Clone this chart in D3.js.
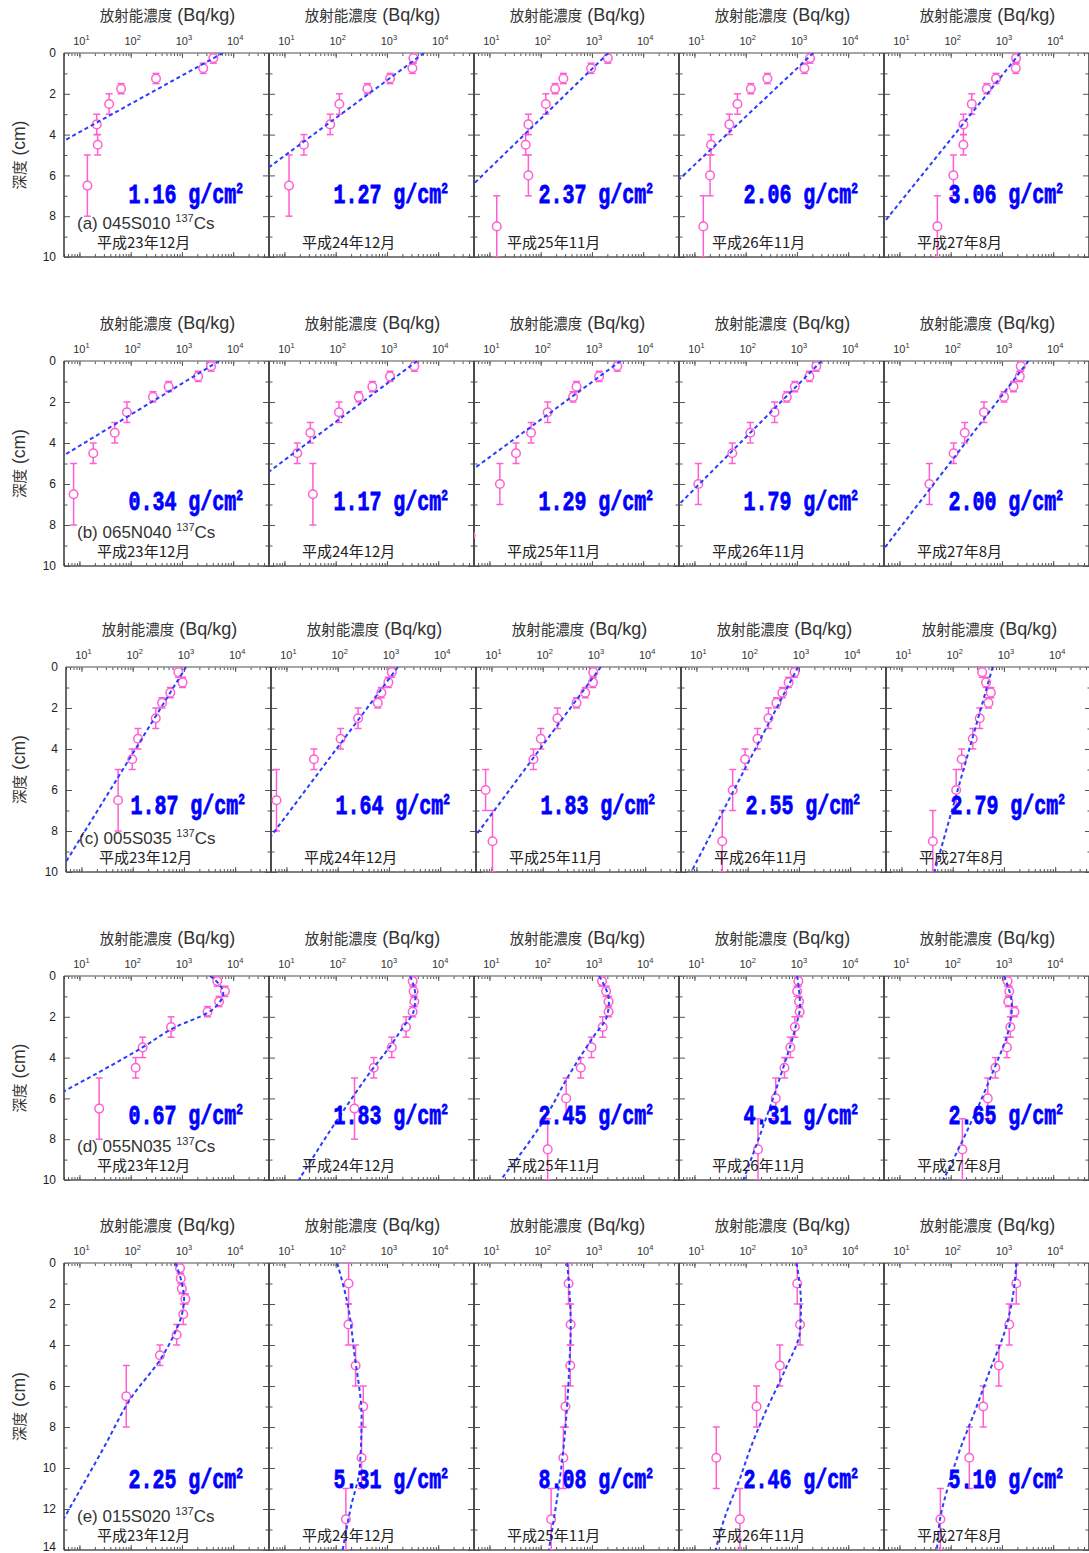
<!DOCTYPE html>
<html>
<head>
<meta charset="utf-8">
<script src="https://cdn.jsdelivr.net/npm/d3@7"></script>
<style>
  body { margin: 0; background: #fff; }
  svg { display: block; }
</style>
</head>
<body>
<svg id="chart"></svg>
<script>
// 地点と調査時期
const siteNames = ['(a) 045S010', '(b) 065N040', '(c) 005S035', '(d) 055N035', '(e) 015S020'];
const surveyDates = ['平成23年12月', '平成24年12月', '平成25年11月', '平成26年11月', '平成27年8月'];

// 重量緩衝深度 (g/cm2)
const massDepths = [
  ['1.16', '1.27', '2.37', '2.06', '3.06'],
  ['0.34', '1.17', '1.29', '1.79', '2.00'],
  ['1.87', '1.64', '1.83', '2.55', '2.79'],
  ['0.67', '1.83', '2.45', '4.31', '2.65'],
  ['2.25', '5.31', '8.08', '2.46', '5.10']
];

// 採取層 (cm)
const layersA = [[0, 0.5], [0.5, 1], [1, 1.5], [1.5, 2], [2, 3], [3, 4], [4, 5], [5, 8]];
const layersB = [[0, 0.5], [0.5, 1], [1, 1.5], [1.5, 2], [2, 3], [3, 4], [4, 5], [5, 7], [7, 10]];
const layersC = [[0, 2], [2, 4], [4, 6], [6, 8], [8, 11], [11, 14]];
const panelLayers = [
  [layersA, layersA, layersB, layersB, layersB],
  [layersA, layersA, layersB, layersB, layersB],
  [layersA, layersA, layersB, layersB, layersB],
  [layersA, layersA, layersB, layersB, layersB],
  [layersA, layersC, layersC, layersC, layersC]
];

// 放射能濃度 (Bq/kg)
const concA = [
  [4100, 2600, 312, 65, 38, 21.8, 22.7, 14.3],
  [3280, 3140, 1150, 415, 118, 78, 24, 12.3],
  [2040, 962, 277, 191, 126, 57.5, 51, 57.5, 13.9],
  [1800, 1400, 265, 126, 69, 48, 21.1, 20.2, 14.9],
  [1890, 1860, 768, 506, 258, 177, 177, 113, 55]
];
const concB = [
  [3700, 2075, 551, 272, 84.5, 48.9, 18.6, 7.7],
  [3430, 1150, 520, 282, 116, 32, 17.8, 35.9],
  [3120, 1384, 501, 428, 137, 65, 33, 16, 4.3],
  [2390, 1750, 912, 635, 367, 123, 54.7, 11.9],
  [2330, 2230, 1680, 1100, 446, 188, 114, 38.4]
];
const concC = [
  [778, 940, 543, 374, 282, 127, 98, 52],
  [1135, 975, 711, 608, 250, 114, 34.4, 6.4],
  [970, 955, 677, 458, 194, 92, 66, 7.7, 10.5],
  [822, 630, 475, 364, 254, 155, 89, 51, 31.9],
  [376, 448, 556, 499, 337, 247, 150, 117, 41]
];
const concD = [
  [4890, 6920, 5300, 3160, 614, 171, 125, 24.3],
  [3180, 3310, 3430, 3180, 2360, 1240, 553, 233],
  [1570, 1890, 2110, 2110, 1620, 980, 605, 314, 137],
  [1067, 1010, 1100, 1130, 912, 745, 571, 386, 174],
  [1290, 1390, 1330, 1760, 1460, 1250, 745, 529, 169]
];
const concE = [
  [918, 948, 998, 1167, 1062, 789, 372, 82],
  [179, 177, 245, 345, 320, 158],
  [350, 384, 378, 304, 277, 160],
  [1015, 1150, 464, 163, 26.7, 77],
  [1905, 1390, 871, 432, 231, 63]
];
const concentrations = [concA, concB, concC, concD, concE];

// 近似曲線 [濃度, 深度]
const fitA = [
  [[6300, 0], [5, 4.3]],
  [[5300, 0], [5, 5.6]],
  [[2090, 0], [5, 6.4]],
  [[2090, 0], [5, 6.2]],
  [[2260, 0], [5, 8.3]]
];
const fitB = [
  [[5300, 0], [5, 4.6]],
  [[3890, 0], [5, 5.4]],
  [[3630, 0], [5, 5.25]],
  [[3020, 0], [5, 7.0]],
  [[3300, 0], [5, 9.15]]
];
const fitC = [
  [[1100, 0], [5, 9.5]],
  [[1500, 0], [5, 8.25]],
  [[1365, 0], [5, 8.2]],
  [[962, 0], [7.9, 10]],
  [[603, 0], [44, 10]]
];
const fitD = [
  [[3550, 0], [5700, 0.5], [6400, 0.85], [5400, 1.3], [3200, 1.8], [750, 2.5], [170, 3.5], [5, 5.65]],
  [[2850, 0], [3600, 1.0], [3300, 1.75], [2080, 2.5], [1115, 3.5], [510, 4.6], [171, 6.3], [19, 10]],
  [[1380, 0], [2150, 1.25], [1950, 2.0], [1050, 3.0], [330, 5.0], [120, 7.0], [16.5, 10]],
  [[1010, 0], [1150, 1.5], [940, 2.5], [464, 5.0], [90, 10]],
  [[1100, 0], [1570, 1.5], [1390, 2.5], [640, 4.8], [72, 10]]
];
const fitE = [
  [[750, 0], [1000, 1.0], [1100, 1.75], [1000, 2.5], [700, 3.5], [380, 4.7], [107, 6.5], [30, 9.0], [5, 12.45]],
  [[107, 0], [171, 2.0], [234, 4.5], [320, 7.5], [295, 10], [194, 12], [137, 14]],
  [[329, 0], [385, 3.0], [363, 5.0], [266, 9.5], [144, 14]],
  [[985, 0], [1200, 2.0], [1150, 3.3], [590, 5.2], [250, 7.2], [130, 8.9], [75, 10.6], [38, 12.5], [26, 14]],
  [[1900, 0], [1800, 0.8], [1150, 3.3], [590, 5.2], [300, 7.2], [152, 9.1], [97, 10.6], [62, 12.5], [54, 14]]
];
const fits = [fitA, fitB, fitC, fitD, fitE];

// 目盛
const decadeTicks = [10, 100, 1000, 10000];
const decadeExponents = ['1', '2', '3', '4'];
const rowMaxDepth = [10, 10, 10, 10, 14];

// レイアウト
const W = 1089, H = 1553;
const panelW = 205;
const firstLeft = 64;
const rowTops = [53, 361, 667, 976, 1263];
const rowBottoms = [257, 566, 872, 1180, 1550];
const rowShift = [0, 0, 2, 0, 0];
const labelLift = [54, 56, 58, 56, 62];

const pink = '#ff5fd2';
const blue = '#2a3cff';
const latin = '"Liberation Sans", "Noto Sans CJK JP", sans-serif';
const cjk = '"Noto Sans CJK JP", sans-serif';

const svg = d3.select('#chart').attr('width', W).attr('height', H);

function ticks(parent, axis, transform) {
  const a = parent.append('g').attr('transform', transform).call(axis);
  a.select('.domain').remove();
  a.selectAll('.tick text').remove();
  a.selectAll('.tick line').attr('stroke', '#555').attr('stroke-width', 1);
}

rowTops.forEach((top, r) => {
  const bottom = rowBottoms[r];
  const maxDepth = rowMaxDepth[r];
  const y = d3.scaleLinear().domain([0, maxDepth]).range([top, bottom]);
  const evenDepths = d3.range(0, maxDepth + 1, 2);
  const oddDepths = d3.range(1, maxDepth, 2);

  // 縦軸ラベル
  const yl = svg.append('text')
    .attr('transform', `translate(25,${(top + bottom) / 2}) rotate(-90)`)
    .attr('text-anchor', 'middle')
    .attr('fill', '#333');
  yl.append('tspan').attr('font-family', cjk).attr('font-size', 14.5).text('深度');
  yl.append('tspan').attr('font-family', latin).attr('font-size', 17.5).text(' (cm)');

  for (let c = 0; c < 5; c++) {
    const left = firstLeft + rowShift[r] + c * panelW;
    const right = left + panelW;
    const x = d3.scaleLog().domain([5, 50000]).range([left, right]);
    const g = svg.append('g');
    const clipId = `clip-${r}-${c}`;
    g.append('clipPath').attr('id', clipId)
      .append('rect').attr('x', left).attr('y', top).attr('width', panelW).attr('height', bottom - top);

    // 横軸タイトル
    const title = g.append('text')
      .attr('x', left + panelW / 2 + 1)
      .attr('y', top - 32)
      .attr('text-anchor', 'middle')
      .attr('fill', '#333');
    title.append('tspan').attr('font-family', cjk).attr('font-size', 14.5).text('放射能濃度');
    title.append('tspan').attr('font-family', latin).attr('font-size', 18).text(' (Bq/kg)');

    // 目盛ラベル 10^n
    decadeTicks.forEach((v, i) => {
      const t = g.append('text')
        .attr('x', x(v) + 2)
        .attr('y', top - 8)
        .attr('text-anchor', 'middle')
        .attr('font-family', latin)
        .attr('font-size', 11)
        .attr('fill', '#333');
      t.append('tspan').text('10');
      t.append('tspan').attr('font-size', 7.5).attr('dy', -5).text(decadeExponents[i]);
    });

    // 目盛線
    ticks(g, d3.axisTop(x).tickValues(x.ticks()).tickSize(-3), `translate(0,${top})`);
    ticks(g, d3.axisTop(x).tickValues(decadeTicks).tickSize(-5), `translate(0,${top})`);
    ticks(g, d3.axisBottom(x).tickValues(x.ticks()).tickSize(-3), `translate(0,${bottom})`);
    ticks(g, d3.axisBottom(x).tickValues(decadeTicks).tickSize(-5), `translate(0,${bottom})`);
    ticks(g, d3.axisLeft(y).tickValues(oddDepths).tickSize(-3.5), `translate(${left},0)`);
    ticks(g, d3.axisLeft(y).tickValues(evenDepths).tickSize(-6), `translate(${left},0)`);
    ticks(g, d3.axisRight(y).tickValues(oddDepths).tickSize(-3.5), `translate(${right},0)`);
    ticks(g, d3.axisRight(y).tickValues(evenDepths).tickSize(-6), `translate(${right},0)`);

    // 枠
    g.append('line').attr('x1', left).attr('x2', right).attr('y1', top).attr('y2', top)
      .attr('stroke', '#8a8a8a').attr('stroke-width', 1.5);
    g.append('line').attr('x1', left).attr('x2', right).attr('y1', bottom).attr('y2', bottom)
      .attr('stroke', '#555').attr('stroke-width', 1.5);
    g.append('line').attr('x1', left).attr('x2', left).attr('y1', top).attr('y2', bottom)
      .attr('stroke', '#444').attr('stroke-width', 1.6);
    g.append('line').attr('x1', right).attr('x2', right).attr('y1', top).attr('y2', bottom)
      .attr('stroke', '#444').attr('stroke-width', 1.6);

    // 深度目盛ラベル
    if (c === 0) {
      g.selectAll('.depth-label')
        .data(evenDepths)
        .enter()
        .append('text')
        .attr('x', left - 8)
        .attr('y', d => Math.min(y(d), H - 6))
        .attr('dy', '0.35em')
        .attr('text-anchor', 'end')
        .attr('font-family', latin)
        .attr('font-size', 12)
        .attr('fill', '#222')
        .text(d => d);
    }

    // 測定値
    const layers = panelLayers[r][c];
    const pts = concentrations[r][c].map((v, i) => ({ v, z0: layers[i][0], z1: layers[i][1] }));
    const plot = g.append('g').attr('clip-path', `url(#${clipId})`);
    const bars = plot.selectAll('.bar').data(pts).enter().append('g');
    bars.append('line')
      .attr('x1', d => x(d.v)).attr('x2', d => x(d.v))
      .attr('y1', d => y(d.z0)).attr('y2', d => y(d.z1))
      .attr('stroke', pink).attr('stroke-width', 1.5);
    bars.append('line')
      .attr('x1', d => x(d.v) - 3.5).attr('x2', d => x(d.v) + 3.5)
      .attr('y1', d => y(d.z0)).attr('y2', d => y(d.z0))
      .attr('stroke', pink).attr('stroke-width', 1.5);
    bars.append('line')
      .attr('x1', d => x(d.v) - 3.5).attr('x2', d => x(d.v) + 3.5)
      .attr('y1', d => y(d.z1)).attr('y2', d => y(d.z1))
      .attr('stroke', pink).attr('stroke-width', 1.5);
    bars.append('circle')
      .attr('cx', d => x(d.v))
      .attr('cy', d => y((d.z0 + d.z1) / 2))
      .attr('r', 4.3)
      .attr('fill', '#fff')
      .attr('stroke', pink)
      .attr('stroke-width', 1.5);

    // 近似曲線
    const line = d3.line()
      .x(d => x(d[0]))
      .y(d => y(d[1]))
      .curve(d3.curveMonotoneY);
    plot.append('path')
      .attr('d', line(fits[r][c]))
      .attr('fill', 'none')
      .attr('stroke', blue)
      .attr('stroke-width', 2)
      .attr('stroke-dasharray', '4,3');

    // 重量緩衝深度
    const md = g.append('text')
      .attr('transform', `translate(${right - 26},${bottom - labelLift[r]}) scale(0.74,1)`)
      .attr('text-anchor', 'end')
      .attr('font-family', '"Liberation Mono", monospace')
      .attr('font-weight', 'bold')
      .attr('font-size', 27)
      .attr('fill', '#0000ff')
      .attr('stroke', '#0000ff')
      .attr('stroke-width', 0.8);
    md.append('tspan').text(`${massDepths[r][c]} g/cm`);
    md.append('tspan').attr('font-size', 15).attr('dy', -10).text('2');

    // 地点名
    if (c === 0) {
      const site = g.append('text')
        .attr('x', left + 13)
        .attr('y', bottom - 28)
        .attr('font-family', latin)
        .attr('font-size', 17)
        .attr('fill', '#333');
      site.append('tspan').text(siteNames[r] + ' ');
      site.append('tspan').attr('font-size', 11).attr('dy', -7).text('137');
      site.append('tspan').attr('dy', 7).text('Cs');
    }

    // 調査時期
    g.append('text')
      .attr('x', left + 33)
      .attr('y', bottom - 9)
      .attr('font-family', cjk)
      .attr('font-size', 15)
      .attr('fill', '#222')
      .text(surveyDates[c]);
  }
});
</script>
</body>
</html>
